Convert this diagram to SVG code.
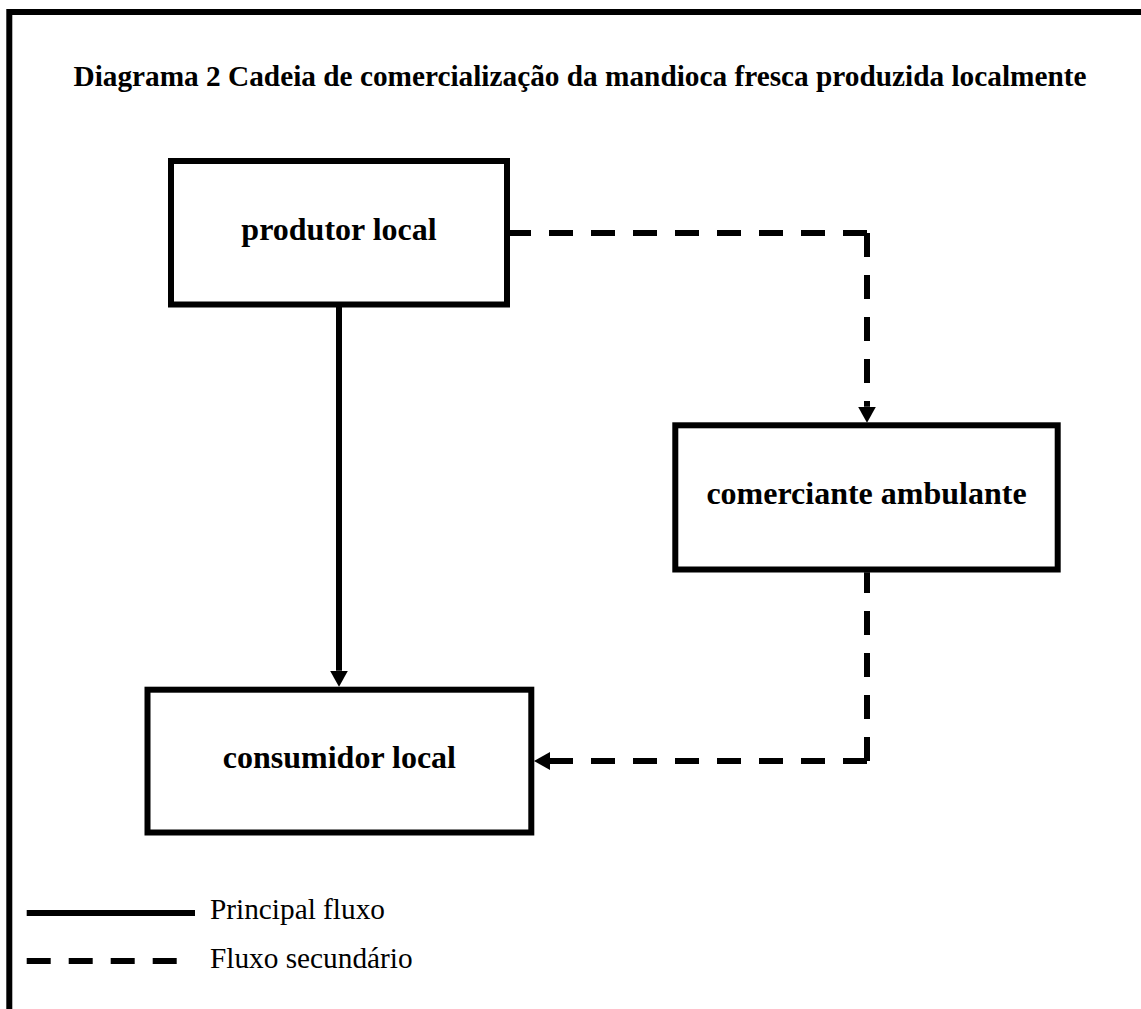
<svg xmlns="http://www.w3.org/2000/svg" width="1141" height="1009" viewBox="0 0 1141 1009">
  <defs>
    <style>
      .frame { fill: none; stroke: #000; stroke-width: 6; stroke-linejoin: miter; }
      .box { fill: #fff; stroke: #000; stroke-width: 6; }
      .label { font-family: "Liberation Serif", "Times New Roman", serif; font-weight: bold; font-size: 32px; fill: #000; text-anchor: middle; }
      .title { font-family: "Liberation Serif", "Times New Roman", serif; font-weight: bold; font-size: 29.3px; fill: #000; text-anchor: middle; }
      .legend-text { font-family: "Liberation Serif", "Times New Roman", serif; font-size: 29.3px; fill: #000; }
      .flow { fill: none; stroke: #000; stroke-width: 6; stroke-linecap: butt; }
      .dashed { stroke-dasharray: 24 18; }
    </style>
    <marker id="arrow" markerUnits="userSpaceOnUse" markerWidth="16" markerHeight="18" viewBox="0 0 16 18" refX="0" refY="9" orient="auto">
      <path d="M0 0 L16 9 L0 18 Z" fill="#000"/>
    </marker>
  </defs>

  <rect width="1141" height="1009" fill="#fff"/>

  <!-- outer frame (open to the right and bottom) -->
  <path class="frame" d="M9.3 1009 V12 H1141"/>

  <text class="title" x="580" y="86">Diagrama 2 Cadeia de comercialização da mandioca fresca produzida localmente</text>

  <!-- connectors -->
  <g id="connectors">
    <!-- main flow: produtor local -> consumidor local -->
    <path class="flow" d="M339 307 V670.7" marker-end="url(#arrow)"/>
    <!-- secondary flow: produtor local -> comerciante ambulante -->
    <path class="flow dashed" d="M867 233 H509 M867 233 V406.7" marker-end="url(#arrow)"/>
    <!-- secondary flow: comerciante ambulante -> consumidor local -->
    <path class="flow dashed" d="M867 761 V572.3 M867 761 H550" marker-end="url(#arrow)"/>
  </g>

  <!-- nodes -->
  <g id="produtor-local">
    <rect class="box" x="171" y="161" width="336" height="143.5"/>
    <text class="label" x="339" y="240">produtor local</text>
  </g>

  <g id="comerciante-ambulante">
    <rect class="box" x="675.3" y="425.3" width="382.4" height="144.2"/>
    <text class="label" x="866.5" y="504.3">comerciante ambulante</text>
  </g>

  <g id="consumidor-local">
    <rect class="box" x="147.5" y="689.7" width="383.8" height="142.8"/>
    <text class="label" x="339.4" y="768.3">consumidor local</text>
  </g>

  <!-- legend -->
  <g id="legend">
    <path class="flow" d="M26.7 913 H195"/>
    <text class="legend-text" x="210" y="919">Principal fluxo</text>
    <path class="flow dashed" d="M26.7 961 H176.7"/>
    <text class="legend-text" x="210" y="968">Fluxo secundário</text>
  </g>
</svg>
